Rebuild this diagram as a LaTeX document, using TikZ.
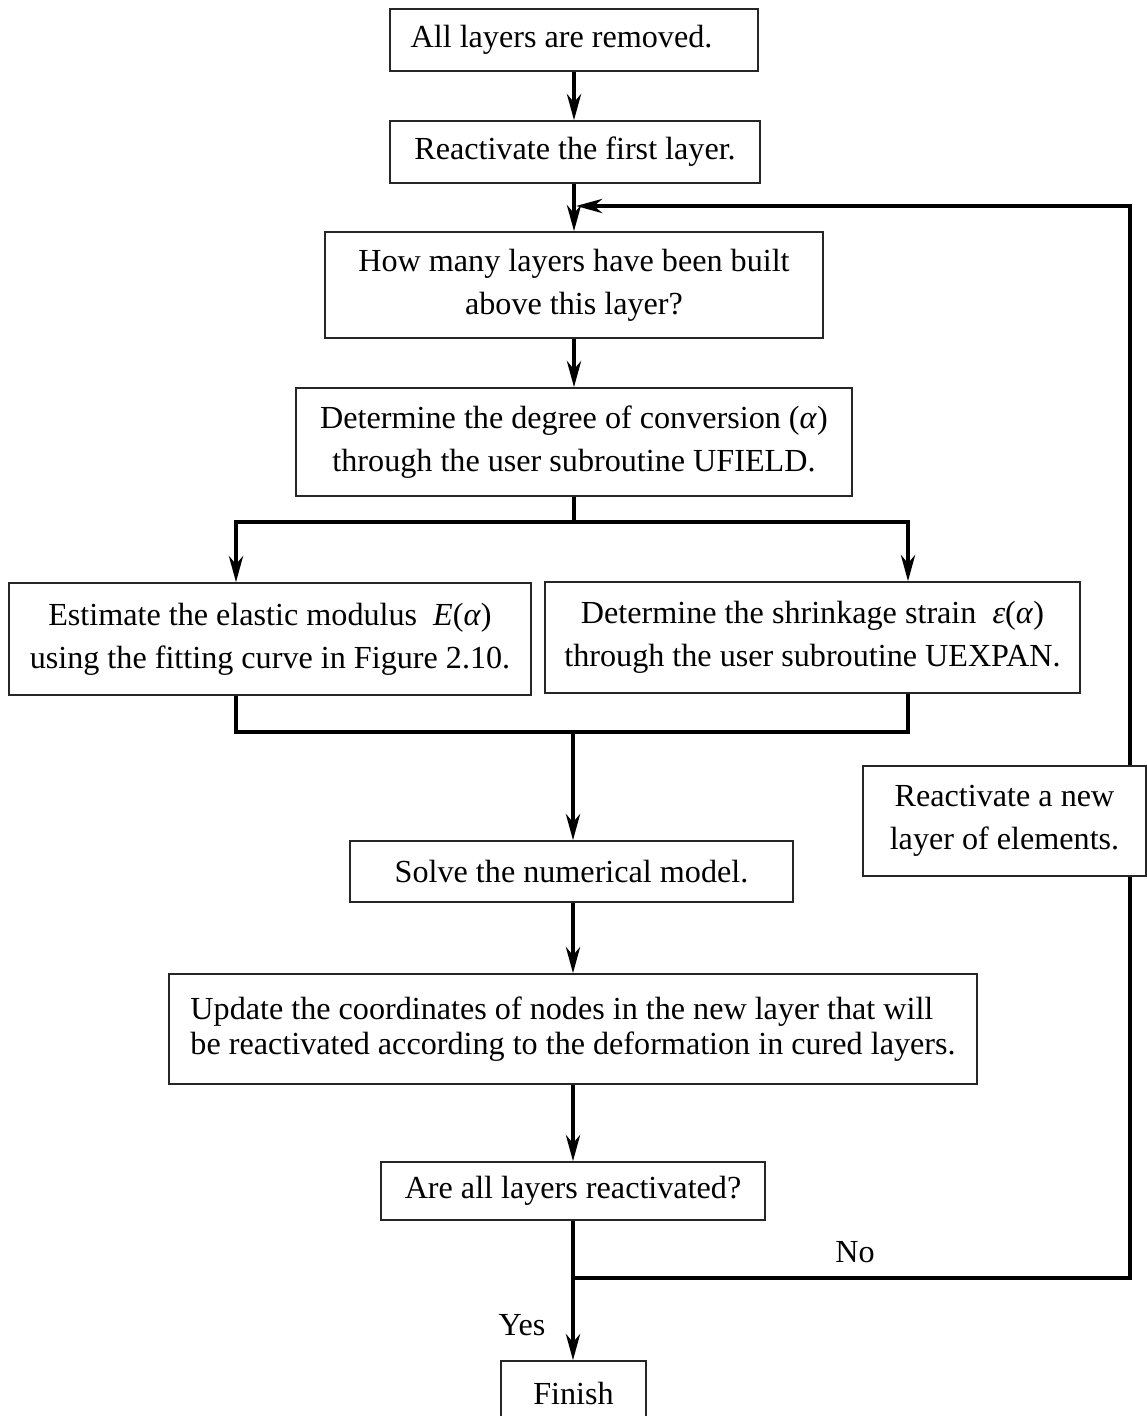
\documentclass[tikz,border=0pt]{standalone}
\usepackage{fix-cm}
\usepackage{fontspec}
\setmainfont{Liberation Serif}
\usetikzlibrary{arrows.meta}
\tikzset{
  box/.style={draw=black!85, line width=0.85pt, fill=white, inner sep=0pt, align=center,
    font=\fontsize{18.3}{24.5}\selectfont},
  conn/.style={line width=2.5pt},
  arr/.style={conn, -{Stealth[length=0.52cm, width=0.28cm, inset=0.16cm]}},
  lbl/.style={inner sep=0pt, font=\fontsize{18.3}{24.5}\selectfont}
}
\newcommand{\mi}[1]{\textit{#1}}
\begin{document}
\begin{tikzpicture}[x=0.02cm, y=-0.02cm]
\useasboundingbox (0,0) rectangle (1146,1416);
% nodes
\node[box, minimum width=7.36cm, minimum height=1.24cm] (b1) at (574,40) {All layers are removed.\hspace*{0.5cm}};
\node[box, minimum width=7.40cm, minimum height=1.24cm] (b2) at (575,152) {Reactivate the first layer.};
\node[box, minimum width=9.96cm, minimum height=2.12cm] (b3) at (574,285) {How many layers have been built\\above this layer?};
\node[box, minimum width=11.12cm, minimum height=2.16cm] (b4) at (574,442) {Determine the degree of conversion (\mi{α})\\through the user subroutine UFIELD.};
\node[box, minimum width=10.44cm, minimum height=2.24cm] (b5) at (270,639) {Estimate the elastic modulus~~\mi{E}(\mi{α})\\using the fitting curve in Figure 2.10.};
\node[box, minimum width=10.70cm, minimum height=2.22cm] (b6) at (812.5,637.5) {Determine the shrinkage strain~~\mi{ε}(\mi{α})\\through the user subroutine UEXPAN.};
\node[box, minimum width=8.86cm, minimum height=1.22cm] (b7) at (571.5,871.5) {Solve the numerical model.};
\node[box, minimum width=16.16cm, minimum height=2.20cm, align=left, font=\fontsize{18.3}{19.9}\selectfont] (b8) at (573,1029) {Update the coordinates of nodes in the new layer that will\\be reactivated according to the deformation in cured layers.};
\node[box, minimum width=7.68cm, minimum height=1.16cm] (b9) at (573,1191) {Are all layers reactivated?};
\node[box, minimum width=2.90cm, minimum height=1.28cm] (b10) at (573.5,1393) {Finish};
% coordinates
\coordinate (bl) at (236,522);
\coordinate (br) at (908,522);
\coordinate (bm) at (574,522);
\coordinate (jl) at (236,732);
\coordinate (jr) at (908,732);
\coordinate (jm) at (573,732);
\coordinate (nj) at (573,1278);
\coordinate (nc) at (1130,1278);
\coordinate (tc) at (1130,206);
\coordinate (tm) at (576,206);
% connectors
\draw[arr] (b1.south) -- (b1.south |- b2.north);
\draw[arr] (b2.south -| b1.south) -- (b1.south |- b3.north);
\draw[arr] (b3.south) -- (b3.south |- b4.north);
\draw[conn] (b4.south) -- (bm);
\draw[conn] ([xshift=-1.25pt]bl) -- ([xshift=1.25pt]br);
\draw[arr] (bl) -- (bl |- b5.north);
\draw[arr] (br) -- (br |- b6.north);
\draw[conn, line join=miter] (jl |- b5.south) -- (jl) -- (jr) -- (jr |- b6.south);
\draw[arr] (jm) -- (jm |- b7.north);
\draw[arr] (b7.south -| jm) -- (jm |- b8.north);
\draw[arr] (b8.south -| jm) -- (jm |- b9.north);
\draw[arr] (b9.south -| jm) -- (jm |- b10.north);
\draw[arr, line join=miter] (nj) -- (nc) -- (tc) -- (tm);
% box on the loop
\node[box, minimum width=5.66cm, minimum height=2.20cm] (b11) at (1004.5,821) {Reactivate a new\\layer of elements.};
% labels
\node[lbl] (no) at (855,1252) {No};
\node[lbl] (yes) at (522,1325) {Yes};
\end{tikzpicture}
\end{document}
